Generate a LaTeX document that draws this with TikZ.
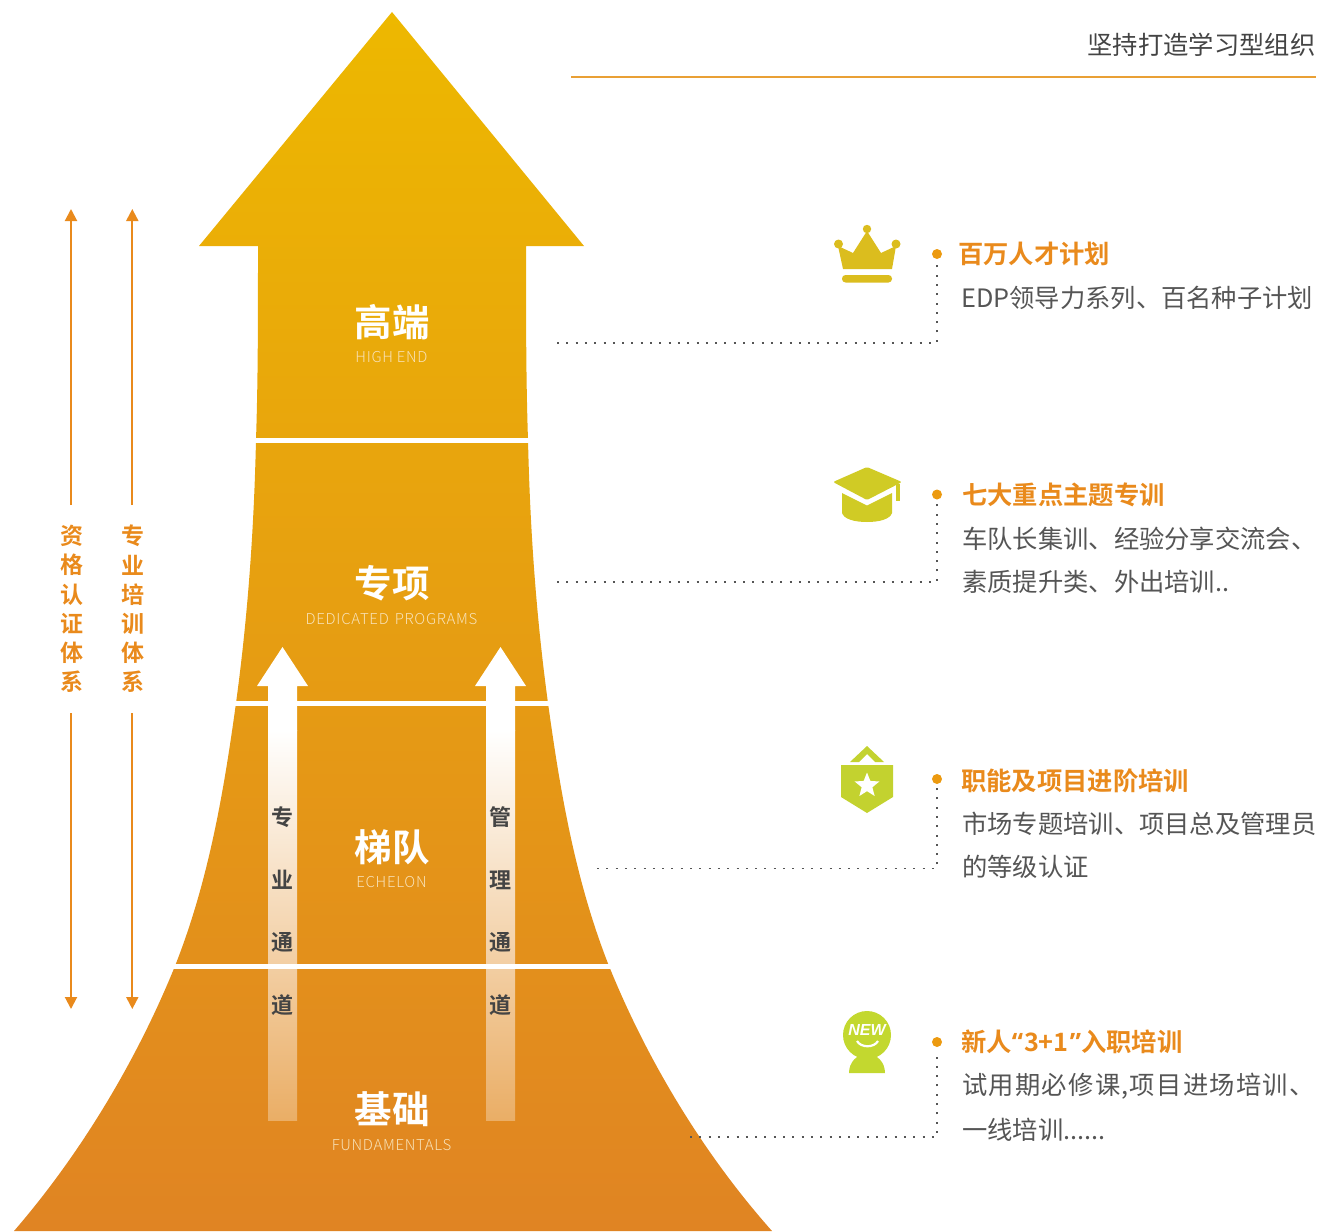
\documentclass[tikz,border=0pt]{standalone}
\usepackage{fontspec}
\usetikzlibrary{arrows.meta,shapes.geometric}
\setmainfont{Noto Sans CJK SC}[BoldFont={Noto Sans CJK SC Bold}]
\newfontfamily\lightf{Noto Sans CJK SC Light}[LetterSpace=4.5]
\newfontfamily\quotef{Open Sans}
\newfontfamily\newf{Liberation Sans}
\definecolor{orangeT}{HTML}{E98A1C}
\definecolor{greyT}{HTML}{555555}
\definecolor{darkT}{HTML}{444444}
\definecolor{subT}{HTML}{F8E2B8}
\definecolor{dotC}{HTML}{EC9A10}
\definecolor{ruleC}{HTML}{E9A035}
\definecolor{crownC}{HTML}{DBBD1E}
\definecolor{capC}{HTML}{D0CB25}
\definecolor{shieldC}{HTML}{C3D22F}
\definecolor{newC}{HTML}{C3D82F}
\definecolor{shaftEnd}{HTML}{EAAE66}
\definecolor{gTop}{HTML}{EDB800}
\definecolor{gMid}{HTML}{E9A004}
\definecolor{gBot}{HTML}{E08423}
\tikzset{
  head/.style={font=\bfseries\fontsize{25.3}{25}\selectfont,text=orangeT,anchor=west,inner sep=0pt},
  body/.style={font=\fontsize{25.3}{25}\selectfont,text=greyT,anchor=west,inner sep=0pt},
  big/.style={font=\bfseries\fontsize{37.5}{37}\selectfont,text=white,inner sep=0pt},
  sub/.style={font=\lightf\fontsize{15}{15}\selectfont,text=subT,inner sep=0pt},
  vert/.style={font=\bfseries\fontsize{22}{22}\selectfont,text=darkT,inner sep=0pt},
  side/.style={font=\bfseries\fontsize{23}{23}\selectfont,text=orangeT,inner sep=0pt},
  dotn/.style={circle,fill=dotC,minimum size=10pt,inner sep=0pt},
  link/.style={draw=greyT,line width=1.8pt,dash pattern=on 2pt off 7.3pt},
  rangeline/.style={draw=orangeT,line width=2pt,-{Triangle[width=12pt,length=12pt]}},
  sep/.style={draw=white,line width=5pt},
}
\begin{document}
\begin{tikzpicture}[x=1pt,y=-1pt]
\useasboundingbox (0,0) rectangle (1319,1231);
% main arrow
\shade[top color=gTop,middle color=gMid,bottom color=gBot]
 (392,12) -- (584,246) -- (526,246)
 .. controls (526,320) and (526,380) .. (528,440)
 .. controls (530,528) and (536,615) .. (548,703)
 .. controls (560,790) and (575,880) .. (609,966)
 .. controls (645,1055) and (700,1150) .. (772,1231)
 -- (14,1231)
 .. controls (84,1150) and (139,1055) .. (175,966)
 .. controls (209,880) and (224,790) .. (236,703)
 .. controls (248,615) and (254,528) .. (256,440)
 .. controls (258,380) and (258,320) .. (258,246)
 -- (199,246) -- cycle;
% inner arrows
\fill[white] (282.5,647) -- (308,686) -- (297,686) -- (297,731) -- (268,731) -- (268,686) -- (257,686) -- cycle;
\shade[top color=white,bottom color=shaftEnd] (268,730) rectangle (297,1120);
\fill[white] (500.5,647) -- (526,686) -- (515,686) -- (515,731) -- (486,731) -- (486,686) -- (475,686) -- cycle;
\shade[top color=white,bottom color=shaftEnd] (486,730) rectangle (515,1120);
% separators
\coordinate (s1l) at (254,440.5); \coordinate (s1r) at (529,440.5);
\coordinate (s2l) at (234,703.5); \coordinate (s2r) at (550,703.5);
\coordinate (s3l) at (173,966.5); \coordinate (s3r) at (611,966.5);
\draw[sep] (s1l) -- (s1r);
\draw[sep] (s2l) -- (s2r);
\draw[sep] (s3l) -- (s3r);
% centre labels
\node[big] (n1) at (392,322) {高端};
\node[sub] (n1s) at (391.5,357) {HIGH END};
\node[big] (n2) at (392,583) {专项};
\node[sub] (n2s) at (391.5,619) {DEDICATED\kern2pt\ PROGRAMS};
\node[big] (n3) at (392,847) {梯队};
\node[sub] (n3s) at (391.5,882) {ECHELON};
\node[big] (n4) at (392,1109) {基础};
\node[sub] (n4s) at (391.5,1145) {FUNDAMENTALS};
% channel labels
\node[vert] (a1) at (282.5,817) {专};
\node[vert] (a2) at (282.5,880) {业};
\node[vert] (a3) at (282.5,942) {通};
\node[vert] (a4) at (282.5,1005) {道};
\node[vert] (b1) at (500.5,817) {管};
\node[vert] (b2) at (500.5,880) {理};
\node[vert] (b3) at (500.5,942) {通};
\node[vert] (b4) at (500.5,1005) {道};
% side scales
\node[side] (c1) at (71.5,536) {资};
\node[side] (c2) at (71.5,565) {格};
\node[side] (c3) at (71.5,595) {认};
\node[side] (c4) at (71.5,624) {证};
\node[side] (c5) at (71.5,653) {体};
\node[side] (c6) at (71.5,682) {系};
\node[side] (f1) at (132.5,536) {专};
\node[side] (f2) at (132.5,565) {业};
\node[side] (f3) at (132.5,595) {培};
\node[side] (f4) at (132.5,624) {训};
\node[side] (f5) at (132.5,653) {体};
\node[side] (f6) at (132.5,682) {系};
\coordinate (ct) at (71,209); \coordinate (cb) at (71,1009);
\coordinate (ft) at (132.3,209); \coordinate (fb) at (132.3,1009);
\coordinate (c0) at (71,505); \coordinate (c7) at (71,713);
\coordinate (f0) at (132.3,505); \coordinate (f7) at (132.3,713);
\draw[rangeline] (c0) -- (ct);
\draw[rangeline] (c7) -- (cb);
\draw[rangeline] (f0) -- (ft);
\draw[rangeline] (f7) -- (fb);
% title
\node[font=\fontsize{25.3}{25}\selectfont,text=darkT,anchor=east,inner sep=0pt] (title) at (1315.5,45) {坚持打造学习型组织};
\coordinate (ruleL) at (571,77); \coordinate (ruleR) at (1316,77);
\draw[draw=ruleC,line width=1.2pt] (ruleL) -- (ruleR);
% dots & links
\node[dotn] (d1) at (937,254) {};
\node[dotn] (d2) at (937,494.5) {};
\node[dotn] (d3) at (937,779) {};
\node[dotn] (d4) at (937,1042) {};
\coordinate (e1) at (557,343);
\coordinate (e2) at (557,582);
\coordinate (e3) at (597,868.5);
\coordinate (e4) at (690,1137);
\draw[link] (e1) -| ([yshift=-4pt]d1.south);
\draw[link] (e2) -| ([yshift=-4pt]d2.south);
\draw[link] (e3) -| ([yshift=-4pt]d3.south);
\draw[link] (e4) -| ([yshift=-4pt]d4.south);
% texts
\node[head] (h1) at (958,254) {百万人才计划};
\node[body] (t1) at (961,298) {EDP领导力系列、百名种子计划};
\node[head] (h2) at (962,495) {七大重点主题专训};
\node[body] (t2a) at (962,539) {车队长集训、经验分享交流会、};
\node[body] (t2b) at (962,582) {素质提升类、外出培训..};
\node[head] (h3) at (961,781) {职能及项目进阶培训};
\node[body] (t3a) at (962,824) {市场专题培训、项目总及管理员};
\node[body] (t3b) at (962,867) {的等级认证};
\node[head] (h4) at (961,1042) {新人{\quotef\bfseries “}\kern1pt 3+1\kern1pt{\quotef\bfseries ”}入职培训};
\node[body] (t4a) at (962,1086) {\addfontfeature{LetterSpace=5}试用期必修课,项目进场培训、};
\node[body] (t4b) at (962,1130) {一线培训......};
% crown
\fill[crownC] (838,246) -- (853,253) -- (867,231) -- (881,253) -- (896,246) -- (892,269) -- (843,269) -- cycle;
\fill[crownC] (867,229) circle (4.2);
\fill[crownC] (838.5,244) circle (4.5);
\fill[crownC] (896,244) circle (4.5);
\fill[crownC,rounded corners=3.5pt] (842,275) rectangle (892,282.5);
% cap
\fill[capC,rounded corners=1.5pt] (833,482) -- (867,467) -- (902,482) -- (867,500) -- cycle;
\fill[capC] (842,493) -- (867,505.5) -- (892,493) -- (892,513) .. controls (890,519) and (880,522) .. (867,522) .. controls (854,522) and (844,519) .. (842,513) -- cycle;
\fill[capC] (896,484) rectangle (899.5,501);
% shield
\fill[shieldC] (850,762) -- (867,746) -- (884,762) -- (875,762) -- (867,754) -- (859,762) -- cycle;
\fill[shieldC] (841,765) -- (893,765) -- (893,797) -- (867,813) -- (841,797) -- cycle;
\node[star,star points=5,star point ratio=2.3,fill=white,minimum size=26pt,inner sep=0pt] (starn) at (867,785.5) {};
% new
\fill[newC] (867,1035) circle (24);
\fill[newC] (849,1073) .. controls (849,1062) and (857,1054) .. (867,1054) .. controls (877,1054) and (885,1062) .. (885,1073) -- cycle;
\node[font=\newf\bfseries\itshape\fontsize{16}{16}\selectfont,text=white,inner sep=0pt] (newt) at (867,1030) {NEW};
\draw[white,line width=2.2pt] (857,1041) .. controls (861,1048) and (874,1048) .. (878,1041);
\end{tikzpicture}
\end{document}
